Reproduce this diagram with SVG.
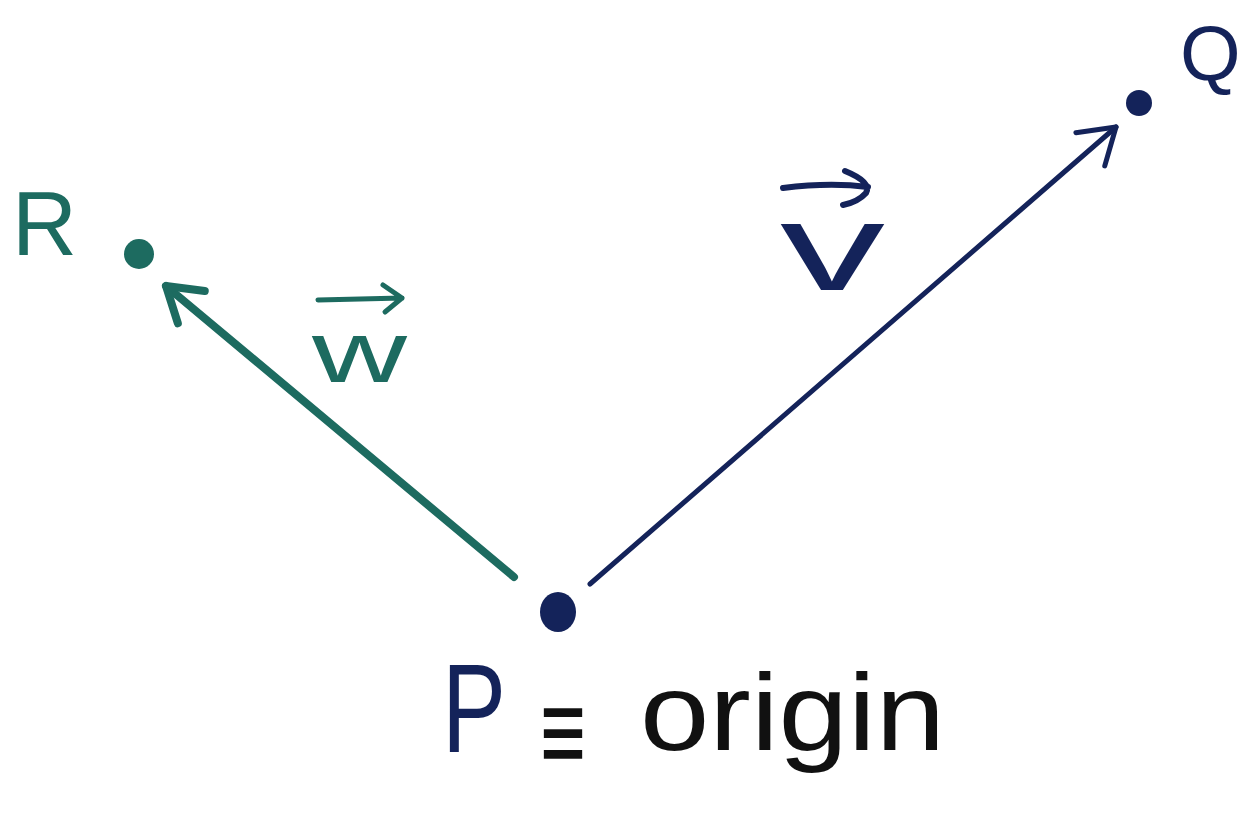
<svg xmlns="http://www.w3.org/2000/svg" width="1247" height="829" viewBox="0 0 1247 829">
<style>
.navy{fill:#14235a}
.teal{fill:#1d6b60}
.lbl{font-family:"Liberation Sans",Arial,sans-serif}
.vec{fill:none;stroke-linecap:round;stroke-linejoin:round}
</style>
<defs>
<marker id="hN" markerUnits="userSpaceOnUse" markerWidth="60" markerHeight="60" refX="0" refY="0" viewBox="-45 -30 50 60" orient="auto" overflow="visible">
<path d="M-34,-22 L0,0 L-34,22" fill="none" stroke="#14235a" stroke-width="5" stroke-linecap="round" stroke-linejoin="round"/>
</marker>
<marker id="hT" markerUnits="userSpaceOnUse" markerWidth="60" markerHeight="60" refX="0" refY="0" viewBox="-45 -30 50 60" orient="auto" overflow="visible">
<path d="M-33,-21 L0,0 L-33,21" fill="none" stroke="#1d6b60" stroke-width="8" stroke-linecap="round" stroke-linejoin="round"/>
</marker>
</defs>
<rect width="1247" height="829" fill="#ffffff"/>
<g id="connectors">
<path id="v-edge" d="M590,584 L1116,127" class="vec" stroke="#14235a" stroke-width="5" marker-end="url(#hN)"/>
<path id="w-edge" d="M514,577 L166,286" class="vec" stroke="#1d6b60" stroke-width="8" marker-end="url(#hT)"/>
</g>
<g id="P">
<ellipse cx="558" cy="612" rx="18" ry="20" class="navy"/>
<text x="442" y="752" class="lbl navy" font-size="126" textLength="64" lengthAdjust="spacingAndGlyphs">P</text>
<text x="540" y="773" class="lbl" font-size="120" fill="#111" textLength="46" lengthAdjust="spacingAndGlyphs">≡</text>
<text x="640" y="750" class="lbl" font-size="110" fill="#111" textLength="305" lengthAdjust="spacingAndGlyphs">origin</text>
</g>
<g id="Q">
<circle cx="1139" cy="103" r="13" class="navy"/>
<text x="1180" y="80" class="lbl navy" font-size="78">Q</text>
</g>
<g id="R">
<circle cx="139" cy="254" r="15" class="teal"/>
<text x="12" y="255" class="lbl teal" font-size="90">R</text>
</g>
<g id="label-v">
<path d="M783,188 Q830,182 868,187 M845,171 Q872,182 866,193 Q858,202 843,205" class="vec" stroke="#14235a" stroke-width="6"/>
<text x="780" y="290" class="lbl navy" font-size="125" textLength="105" lengthAdjust="spacingAndGlyphs">v</text>
</g>
<g id="label-w">
<path d="M318,300 L402,298 M383,285 L402,298 L385,312" class="vec" stroke="#1d6b60" stroke-width="5"/>
<text x="312" y="382" class="lbl teal" font-size="88" textLength="95" lengthAdjust="spacingAndGlyphs">w</text>
</g>
</svg>
